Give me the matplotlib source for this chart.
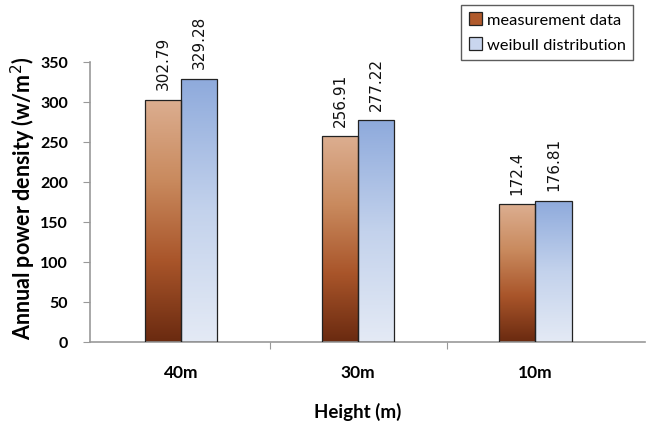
import numpy as np
import matplotlib
matplotlib.use("Agg")
import matplotlib.pyplot as plt
from matplotlib.colors import LinearSegmentedColormap

heights = ["40m", "30m", "10m"]
measured = [302.79, 256.91, 172.4]
weibull = [329.28, 277.22, 176.81]
measured_labels = ["302.79", "256.91", "172.4"]
weibull_labels = ["329.28", "277.22", "176.81"]

plt.rcParams['font.family'] = ['Lato', 'DejaVu Sans']

fig = plt.figure(figsize=(6.47, 4.31), dpi=100)
ax = fig.add_axes([90 / 647, 1 - 343 / 431, 555 / 647, 280 / 431])

brown = LinearSegmentedColormap.from_list("brown", ["#6a2a10", "#a9552a", "#c98a5e", "#dcae90"])
blue = LinearSegmentedColormap.from_list("blue", ["#e4eaf5", "#c3d2ec", "#8eaadc"])

x = np.arange(len(heights))
w = 0.205
grad = np.linspace(0, 1, 256).reshape(-1, 1)

def gradient_bars(xs, vals, cmap, label):
    bars = ax.bar(xs, vals, w, color="none", edgecolor="#222222", linewidth=0.9,
                  label=label, zorder=3)
    for b in bars:
        x0, y0 = b.get_x(), b.get_y()
        im = ax.imshow(grad, extent=[x0, x0 + b.get_width(), y0, y0 + b.get_height()],
                       origin="lower", cmap=cmap, aspect="auto", zorder=2)
        im.set_clip_path(b)
    return bars

b1 = gradient_bars(x - w / 2, measured, brown, "measurement data")
b2 = gradient_bars(x + w / 2, weibull, blue, "weibull distribution")

# rotated value labels above each bar
for xs, vals, labs in [(x - w / 2, measured, measured_labels), (x + w / 2, weibull, weibull_labels)]:
    for xi, v, t in zip(xs, vals, labs):
        ax.text(xi, v + 13, t, rotation=90, ha="center", va="bottom", fontsize=11,
                color="#111111", family="DejaVu Sans")

ax.set_xlim(-0.515, 2.62)
ax.set_ylim(0, 350)
ax.set_yticks(range(0, 351, 50))
ax.set_xticks([0.5, 1.5])
ax.set_xticklabels([])
ax.tick_params(axis="x", length=5, color="#999999")
ax.tick_params(axis="y", length=5, color="#999999", labelsize=11.5, pad=11)
for i, h in enumerate(heights):
    ax.text(i, -38, h, ha="center", va="center", fontsize=12.5, fontweight="bold")
for s in ["top", "right"]:
    ax.spines[s].set_visible(False)
ax.spines["left"].set_color("#999999")
ax.spines["bottom"].set_color("#999999")
ax.spines["left"].set_linewidth(1.2)
ax.spines["bottom"].set_linewidth(1.2)
for t in ax.get_yticklabels():
    t.set_fontweight("bold")

fig.text(23 / 647, 1 - 198 / 431, "Annual power density (w/m$^2$)", rotation=90,
         ha="center", va="center", fontsize=15.5, fontweight="bold")
fig.text(358 / 647, 1 - 412 / 431, "Height (m)", ha="center", va="center",
         fontsize=13.5, fontweight="bold")

leg = ax.legend(handles=[b1[0], b2[0]], labels=["measurement data", "weibull distribution"],
                loc="upper right", fontsize=11.8, borderaxespad=0,
                frameon=True, fancybox=False, edgecolor="#333333",
                handlelength=0.8, handleheight=0.8, handletextpad=0.3,
                borderpad=0.45, labelspacing=0.6)
leg.set_bbox_to_anchor((633 / 647, 1 - 6 / 431), transform=fig.transFigure)
leg.legend_handles[0].set_facecolor("#b05a2c")
leg.legend_handles[1].set_facecolor("#c9d6ee")

fig.savefig("out.png", dpi=100)
